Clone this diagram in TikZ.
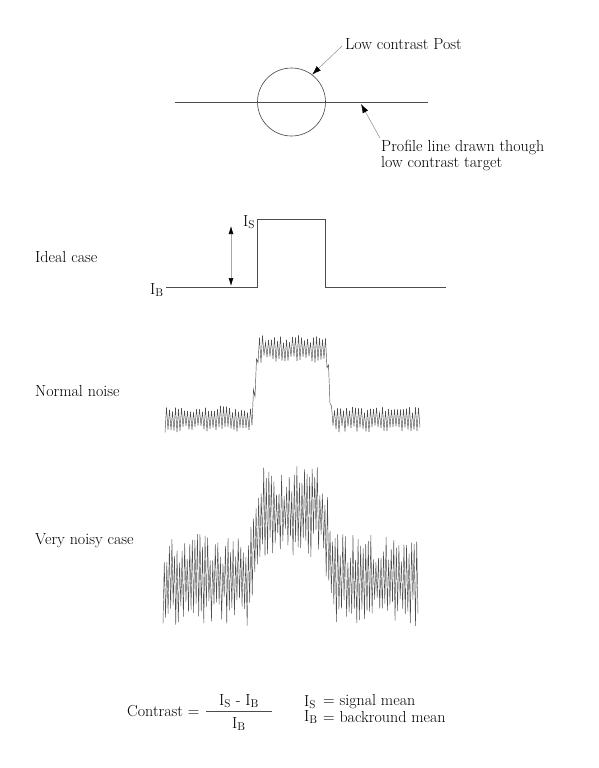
\documentclass[tikz,border=0pt]{standalone}
\usetikzlibrary{arrows.meta}
\begin{document}
\begin{tikzpicture}[x=1pt,y=-1pt,
  txt/.style={font=\fontsize{16}{16}\selectfont, inner sep=0pt, anchor=west},
  thin line/.style={draw=black!70, line width=0.6pt},
  pointer/.style={draw=black!45, line width=0.5pt, -{Latex[length=9pt,width=6pt,black]}},
  dbl/.style={draw=black!35, line width=0.6pt, {Latex[length=8pt,width=5pt,black]}-{Latex[length=8pt,width=5pt,black]}},
  noise/.style={draw=black!70, line width=0.45pt}]
\useasboundingbox (0,0) rectangle (598,768);

% --- top: post and profile line
\node[circle, draw=black!75, line width=0.6pt, minimum size=68pt, inner sep=0pt] (post) at (291.5,102) {};
\coordinate (pl) at (175,102);
\coordinate (pr) at (428,102);
\draw[thin line] (pl) -- (pr);
\coordinate (ptip) at (361,104);

\node[txt] (postlbl) at (345,44) {Low contrast Post};
\coordinate (posttail) at (342,46);
\draw[pointer] (posttail) -- (post.53);

\node[txt, align=left] (proflbl) at (381,156) {Profile line drawn though\\low contrast target};
\coordinate (proftail) at (380,138);
\draw[pointer] (proftail) -- (ptip);

% --- ideal case
\node[txt] (ideal) at (35,257) {Ideal case};
\coordinate (i0) at (166,287);
\coordinate (i1) at (257,287);
\coordinate (i2) at (257,219);
\coordinate (i3) at (325,219);
\coordinate (i4) at (325,287);
\coordinate (i5) at (446,287);
\draw[thin line] (i0) -- (i1) -- (i2) -- (i3) -- (i4) -- (i5);
\coordinate (aT) at (231,226);
\coordinate (aB) at (231,286);
\draw[dbl] (aT) -- (aB);
\node[txt] (islbl) at (243,222) {I\textsubscript{S}};
\node[txt] (iblbl) at (150,290) {I\textsubscript{B}};

% --- normal noise (zigzag, step 1.5)
\node[txt] (normal) at (35,391) {Normal noise};
\pgfmathsetseed{11}
\draw[noise] plot[domain=0:170, samples=171, variable=\k]
  ({165+1.5*\k}, {419 - 70*max(0,min(1,(165+1.5*\k-252)/6)) + 70*max(0,min(1,(165+1.5*\k-326)/6))
        + 14*(1-2*mod(round(\k),2))*(0.45+0.55*rnd)});

% --- very noisy (zigzag, step 1.275)
\node[txt] (noisy) at (35,541) {Very noisy case};
\pgfmathsetseed{5}
\draw[noise] plot[domain=0:200, samples=201, variable=\k]
  ({163+1.275*\k}, {580 - 68*max(0,min(1,(163+1.275*\k-249)/13)) + 68*max(0,min(1,(163+1.275*\k-322)/13))
        + 46*(1-2*mod(round(\k),2))*(0.35+0.65*rnd)});

% --- formula
\node[txt] (contrast) at (127,711) {Contrast =};
\coordinate (fl) at (206,711);
\coordinate (fr) at (272,711);
\draw[black!70, line width=0.6pt] (fl) -- (fr);
\node[font=\fontsize{16}{16}\selectfont, inner sep=0pt] (num) at (239,701) {I\textsubscript{S} - I\textsubscript{B}};
\node[font=\fontsize{16}{16}\selectfont, inner sep=0pt] (den) at (239,724) {I\textsubscript{B}};
\node[txt] (ls) at (304,702) {I\textsubscript{S}};
\node[txt] (lsd) at (323,702) {= signal mean};
\node[txt] (lb) at (304,717) {I\textsubscript{B}};
\node[txt] (lbd) at (323,717) {= backround mean};
\end{tikzpicture}
\end{document}
